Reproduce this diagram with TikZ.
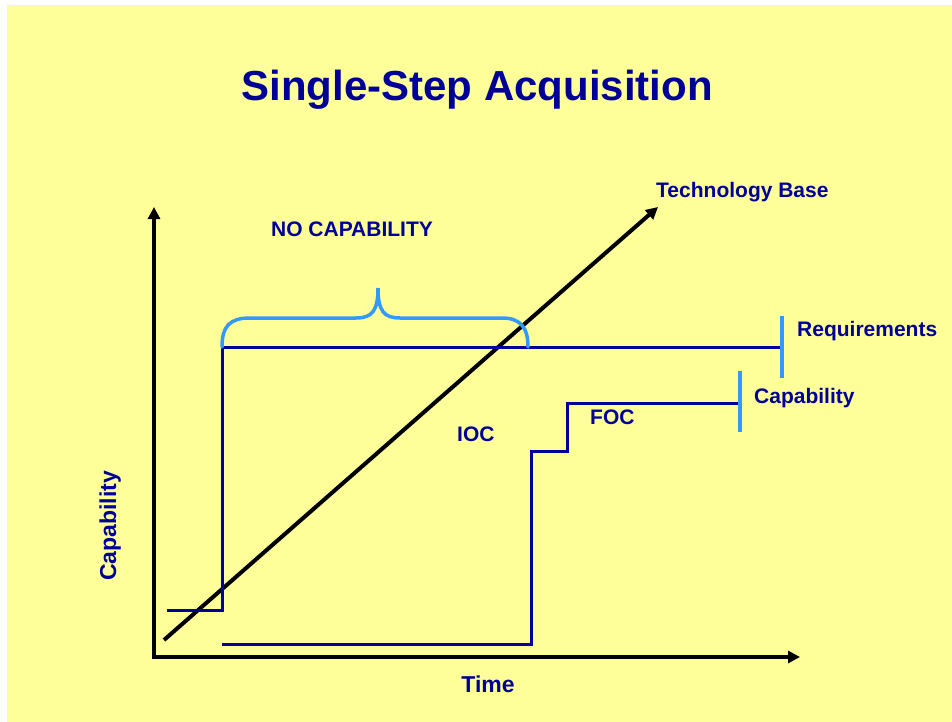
\documentclass[tikz,border=0pt]{standalone}
\usepackage{fontspec}
\setmainfont{Liberation Sans}
\usetikzlibrary{arrows.meta}
\definecolor{slide}{HTML}{FFFF99}
\definecolor{ink}{HTML}{000099}
\definecolor{tickblue}{HTML}{3399FF}
\begin{document}
\begin{tikzpicture}[x=1pt,y=-1pt,
  lbl/.style={text=ink,font=\fontsize{21}{25}\selectfont\bfseries,inner sep=0pt,anchor=base west},
  axislbl/.style={text=ink,font=\fontsize{23}{27}\selectfont\bfseries,inner sep=0pt,anchor=base},
  axisline/.style={line width=4pt,line join=miter},
  tip/.style={-{Triangle[length=12pt,width=12pt]}},
  level/.style={ink,line width=3pt,line join=miter},
  marker/.style={tickblue,line width=3.5pt}]
\useasboundingbox (0,0) rectangle (952,722);
\fill[white] (0,0) rectangle (952,722);
\fill[slide] (7,5) rectangle (952,722);

% title
\node[text=ink,font=\fontsize{42}{48}\selectfont\bfseries,inner sep=0pt,anchor=base]
  (title) at (477,101) {Single-Step Acquisition};

% axes
\coordinate (origin) at (154,657);
\coordinate (ytip) at (154,207);
\coordinate (xtip) at (800,657);
\draw[axisline,{Triangle[length=12pt,width=12pt]}-{Triangle[length=12pt,width=12pt]}]
  (ytip) -- (origin) -- (xtip);

% technology base
\coordinate (techstart) at (164,640);
\coordinate (techend) at (658,207);
\draw[axisline,tip] (techstart) -- (techend);

% requirements level
\coordinate (r0) at (167,610);
\coordinate (r1) at (222,610);
\coordinate (r2) at (222,347);
\coordinate (r3) at (782,347);
\draw[level] (r0) -- (r1) -- (r2) -- (r3);
\coordinate (rtop) at (782,316);
\coordinate (rbot) at (782,378);
\draw[marker] (rtop) -- (rbot);

% capability level
\coordinate (c0) at (222,644);
\coordinate (c1) at (531,644);
\coordinate (c2) at (531,451);
\coordinate (c3) at (567,451);
\coordinate (c4) at (567,403);
\coordinate (c5) at (740,403);
\draw[level] (c0) -- (c1) -- (c2) -- (c3) -- (c4) -- (c5);
\coordinate (ctop) at (740,371);
\coordinate (cbot) at (740,432);
\draw[marker] (ctop) -- (cbot);

% brace over the gap
\coordinate (bl) at (222,347);
\coordinate (bm) at (378,288);
\coordinate (br) at (528,347);
\draw[marker,line cap=round] (bl) .. controls (222,326) and (230,318) .. (250,318)
  -- (356,318) .. controls (372,318) and (378,311) .. (bm)
  .. controls (378,311) and (384,318) .. (400,318)
  -- (502,318) .. controls (520,318) and (528,327) .. (br);

% labels
\node[lbl] (techlbl) at (656,197) {Technology Base};
\node[lbl,anchor=base] (nocap) at (352,236.5) {NO CAPABILITY};
\node[lbl] (reqlbl) at (797,336) {Requirements};
\node[lbl] (caplbl) at (754,403) {Capability};
\node[lbl] (foc) at (590,424) {FOC};
\node[lbl] (ioc) at (457,441.5) {IOC};
\node[axislbl] (timelbl) at (488,692.5) {Time};
\node[axislbl,rotate=90] (ylbl) at (116,526) {Capability};
\end{tikzpicture}
\end{document}
